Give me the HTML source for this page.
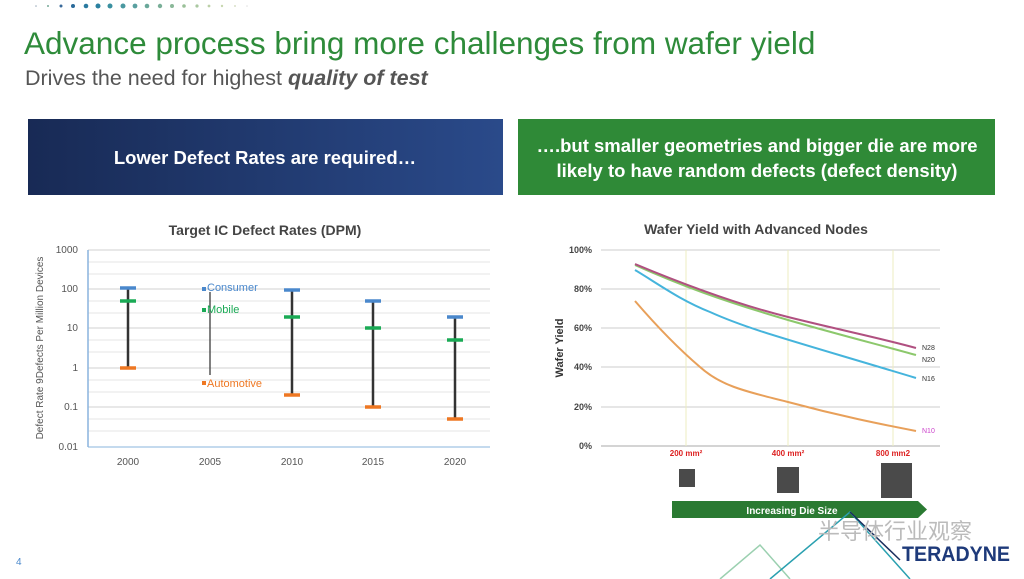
<!DOCTYPE html>
<html><head><meta charset="utf-8"><style>
body{margin:0;width:1024px;height:579px;background:#fff;overflow:hidden;font-family:"Liberation Sans",sans-serif;position:relative}
.t{position:absolute;white-space:nowrap}
</style></head><body>
<svg width="1024" height="579" style="position:absolute;left:0;top:0" font-family="Liberation Sans, sans-serif">
<defs><linearGradient id="bg1" x1="0" x2="1"><stop offset="0" stop-color="#182a55"/><stop offset="1" stop-color="#2a4a8a"/></linearGradient></defs>
<g>
<circle cx="36" cy="6" r="0.8" fill="#9ab"/><circle cx="48" cy="6" r="1" fill="#7a9"/><circle cx="61" cy="6" r="1.5" fill="#3a6a9a"/><circle cx="73" cy="6" r="2" fill="#2a6a9a"/><circle cx="86" cy="6" r="2.3" fill="#2a7aa0"/><circle cx="98" cy="6" r="2.5" fill="#2a80a0"/><circle cx="110" cy="6" r="2.5" fill="#3a90a0"/><circle cx="123" cy="6" r="2.5" fill="#4a98a0"/><circle cx="135" cy="6" r="2.4" fill="#5aa0a0"/><circle cx="147" cy="6" r="2.3" fill="#6aa89a"/><circle cx="160" cy="6" r="2.2" fill="#7aaf98"/><circle cx="172" cy="6" r="2" fill="#8ab898"/><circle cx="184" cy="6" r="1.8" fill="#9ac098"/><circle cx="197" cy="6" r="1.6" fill="#aac8a0"/><circle cx="209" cy="6" r="1.4" fill="#bcd0a8"/><circle cx="222" cy="6" r="1.2" fill="#c8d8b0"/><circle cx="235" cy="6" r="1" fill="#d8e0c8"/><circle cx="247" cy="6" r="0.8" fill="#e0e0e0"/>
</g>
<rect x="28" y="119" width="475" height="76" fill="url(#bg1)"/>
<rect x="518" y="119" width="477" height="76" fill="#2f8a37"/>
<text x="265" y="164" fill="#fff" font-size="18.5" font-weight="bold" text-anchor="middle">Lower Defect Rates are required…</text>
<text x="757" y="152" fill="#fff" font-size="18.5" font-weight="bold" text-anchor="middle">….but smaller geometries and bigger die are more</text>
<text x="757" y="177" fill="#fff" font-size="18.5" font-weight="bold" text-anchor="middle">likely to have random defects (defect density)</text>

<!-- left chart -->
<text x="265" y="235" fill="#444" font-size="14" font-weight="bold" text-anchor="middle">Target IC Defect Rates (DPM)</text>
<g stroke="#e4e4e4" stroke-width="1">
<line x1="88" x2="490" y1="262" y2="262"/><line x1="88" x2="490" y1="274" y2="274"/><line x1="88" x2="490" y1="301" y2="301"/><line x1="88" x2="490" y1="313" y2="313"/><line x1="88" x2="490" y1="340" y2="340"/><line x1="88" x2="490" y1="352" y2="352"/><line x1="88" x2="490" y1="380" y2="380"/><line x1="88" x2="490" y1="392" y2="392"/><line x1="88" x2="490" y1="419" y2="419"/><line x1="88" x2="490" y1="431" y2="431"/>
</g>
<g stroke="#d0d0d0"><line x1="88" x2="490" y1="250" y2="250"/><line x1="88" x2="490" y1="289" y2="289"/><line x1="88" x2="490" y1="328" y2="328"/><line x1="88" x2="490" y1="368" y2="368"/><line x1="88" x2="490" y1="407" y2="407"/></g>
<line x1="88" x2="88" y1="250" y2="447" stroke="#8ab4dd" stroke-width="1.5"/>
<line x1="88" x2="490" y1="447" y2="447" stroke="#8ab4dd"/>
<g font-size="10" fill="#555" text-anchor="end"><text x="78" y="253">1000</text><text x="78" y="292">100</text><text x="78" y="331">10</text><text x="78" y="371">1</text><text x="78" y="410">0.1</text><text x="78" y="450">0.01</text></g>
<g font-size="10" fill="#555" text-anchor="middle"><text x="128" y="465">2000</text><text x="210" y="465">2005</text><text x="292" y="465">2010</text><text x="373" y="465">2015</text><text x="455" y="465">2020</text></g>
<text transform="translate(43,348) rotate(-90)" font-size="10" fill="#555" text-anchor="middle">Defect Rate 9Defects Per Million Devices</text>
<g stroke="#333" stroke-width="2.5"><line x1="128" x2="128" y1="288" y2="368"/><line x1="292" x2="292" y1="290" y2="395"/><line x1="373" x2="373" y1="301" y2="407"/><line x1="455" x2="455" y1="317" y2="419"/><line x1="210" x2="210" y1="292" y2="375" stroke-width="1.5" stroke="#555"/></g>
<g stroke-width="3.5">
<line x1="120" x2="136" y1="288" y2="288" stroke="#4a88cc"/><line x1="120" x2="136" y1="301" y2="301" stroke="#1aaa55"/><line x1="120" x2="136" y1="368" y2="368" stroke="#ee7722"/>
<line x1="284" x2="300" y1="290" y2="290" stroke="#4a88cc"/><line x1="284" x2="300" y1="317" y2="317" stroke="#1aaa55"/><line x1="284" x2="300" y1="395" y2="395" stroke="#ee7722"/>
<line x1="365" x2="381" y1="301" y2="301" stroke="#4a88cc"/><line x1="365" x2="381" y1="328" y2="328" stroke="#1aaa55"/><line x1="365" x2="381" y1="407" y2="407" stroke="#ee7722"/>
<line x1="447" x2="463" y1="317" y2="317" stroke="#4a88cc"/><line x1="447" x2="463" y1="340" y2="340" stroke="#1aaa55"/><line x1="447" x2="463" y1="419" y2="419" stroke="#ee7722"/>
</g>
<rect x="202" y="287" width="4" height="4" fill="#4a88cc"/><text x="207" y="291" font-size="11" fill="#4a88cc">Consumer</text>
<rect x="202" y="308" width="4" height="4" fill="#1aaa55"/><text x="207" y="313" font-size="11" fill="#1aaa55">Mobile</text>
<rect x="202" y="381" width="4" height="4" fill="#ee7722"/><text x="207" y="387" font-size="11" fill="#ee7722">Automotive</text>

<!-- right chart -->
<text x="756" y="234" fill="#444" font-size="14" font-weight="bold" text-anchor="middle">Wafer Yield with Advanced Nodes</text>
<g stroke="#ccc"><line x1="601" x2="940" y1="250" y2="250"/><line x1="601" x2="940" y1="289" y2="289"/><line x1="601" x2="940" y1="328" y2="328"/><line x1="601" x2="940" y1="367" y2="367"/><line x1="601" x2="940" y1="407" y2="407"/><line x1="601" x2="940" y1="446" y2="446" stroke="#aaa"/></g>
<g stroke="#ecedc0"><line x1="686" x2="686" y1="250" y2="446"/><line x1="788" x2="788" y1="250" y2="446"/><line x1="893" x2="893" y1="250" y2="446"/></g>
<g font-size="9" font-weight="bold" fill="#444" text-anchor="end"><text x="592" y="253">100%</text><text x="592" y="292">80%</text><text x="592" y="331">60%</text><text x="592" y="370">40%</text><text x="592" y="410">20%</text><text x="592" y="449">0%</text></g>
<text transform="translate(563,348) rotate(-90)" font-size="11" font-weight="bold" fill="#333" text-anchor="middle">Wafer Yield</text>
<g fill="none" stroke-width="2">
<path d="M635,301 C660,330 680,350 700,367 C720,385 740,390 788,402 C840,416 880,424 916,431" stroke="#e8a05a"/>
<path d="M635,270 C660,285 680,300 710,312 C750,330 790,340 916,378" stroke="#45b4dc"/>
<path d="M635,265 C680,285 720,300 788,320 C840,335 880,345 916,355" stroke="#8cc86c"/>
<path d="M635,264 C690,287 740,305 788,317 C840,330 880,338 916,348" stroke="#b05080"/>
</g>
<g font-size="7" fill="#333"><text x="922" y="350">N28</text><text x="922" y="362">N20</text><text x="922" y="381">N16</text><text x="922" y="433" fill="#cc44cc">N10</text></g>
<g font-size="8" font-weight="bold" fill="#dd2222" text-anchor="middle"><text x="686" y="456">200 mm²</text><text x="788" y="456">400 mm²</text><text x="893" y="456">800 mm2</text></g>
<rect x="679" y="469" width="16" height="18" fill="#4a4a4a"/>
<rect x="777" y="467" width="22" height="26" fill="#4a4a4a"/>
<rect x="881" y="463" width="31" height="35" fill="#4a4a4a"/>
<path d="M672,501 L918,501 L927,509.5 L918,518 L672,518 Z" fill="#2a7a32"/>
<text x="792" y="514" fill="#fff" font-size="10" font-weight="bold" text-anchor="middle">Increasing Die Size</text>
<g fill="none" stroke-width="1.5"><path d="M720,579 L760,545 L790,579" stroke="#9bd0b0"/><path d="M770,579 L850,512 L910,579" stroke="#2aa0b0"/><path d="M850,512 L900,560" stroke="#1b2f5e"/></g>
<text x="16" y="565" font-size="10" fill="#4a88cc">4</text>
<text x="818" y="539" font-size="22" fill="#bbb" font-family="Noto Sans CJK SC, sans-serif">半导体行业观察</text>
<text x="1010" y="561" font-size="21" font-weight="bold" fill="#1e3a7a" text-anchor="end" textLength="108" lengthAdjust="spacingAndGlyphs">TERADYNE</text>
</svg>
<div class="t" style="left:24px;top:25px;font-size:31.5px;color:#2e8b3a">Advance process bring more challenges from wafer yield</div>
<div class="t" style="left:25px;top:66px;font-size:21.5px;color:#555">Drives the need for highest <b><i>quality of test</i></b></div>
</body></html>
